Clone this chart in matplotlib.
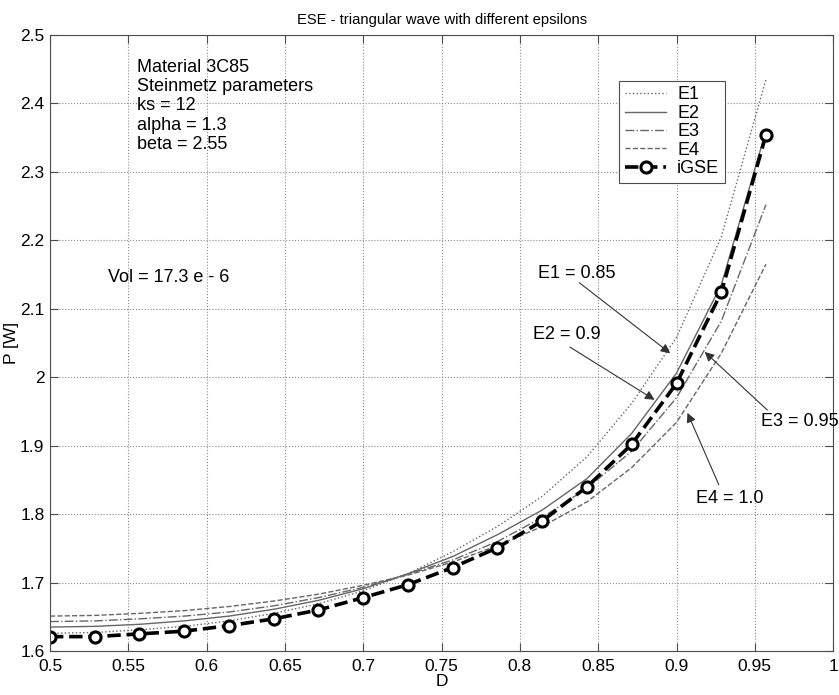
import numpy as np
import matplotlib
matplotlib.use('Agg')
import matplotlib.pyplot as plt

plt.rcParams['font.family'] = ['Liberation Sans', 'DejaVu Sans']

# duty cycle D and losses P [W]
D = [0.5, 0.5286, 0.5571, 0.5857, 0.6143, 0.6429, 0.6714, 0.7, 0.7286,
     0.7571, 0.7857, 0.8143, 0.8429, 0.8714, 0.9, 0.9286, 0.9571]
iGSE = [1.621, 1.621, 1.625, 1.629, 1.637, 1.647, 1.660, 1.678, 1.697,
        1.722, 1.751, 1.790, 1.840, 1.902, 1.991, 2.124, 2.354]
E1 = [1.626, 1.627, 1.631, 1.636, 1.644, 1.655, 1.669, 1.688, 1.713,
      1.745, 1.782, 1.826, 1.884, 1.962, 2.058, 2.205, 2.435]
E2 = [1.635, 1.636, 1.639, 1.644, 1.651, 1.661, 1.674, 1.691, 1.713,
      1.738, 1.770, 1.806, 1.852, 1.918, 2.006, 2.135, 2.360]
E3 = [1.643, 1.644, 1.647, 1.651, 1.657, 1.666, 1.678, 1.693, 1.712,
      1.733, 1.760, 1.795, 1.838, 1.892, 1.970, 2.082, 2.252]
E4 = [1.651, 1.652, 1.655, 1.659, 1.665, 1.673, 1.683, 1.696, 1.711,
      1.730, 1.754, 1.782, 1.818, 1.868, 1.934, 2.035, 2.165]

xticks = [0.5, 0.55, 0.6, 0.65, 0.7, 0.75, 0.8, 0.85, 0.9, 0.95, 1]
xticklabels = ['0.5', '0.55', '0.6', '0.65', '0.7', '0.75', '0.8', '0.85', '0.9', '0.95', '1']
yticks = [1.6, 1.7, 1.8, 1.9, 2.0, 2.1, 2.2, 2.3, 2.4, 2.5]
yticklabels = ['1.6', '1.7', '1.8', '1.9', '2', '2.1', '2.2', '2.3', '2.4', '2.5']

fig = plt.figure(figsize=(8.39, 6.95), dpi=100)
ax = fig.add_axes([0.0596, 0.0633, 0.9334, 0.8863])

gray = '0.4'
ax.plot(D, E1, ls=':', color=gray, lw=1.0, label='E1')
ax.plot(D, E2, ls='-', color=gray, lw=1.0, label='E2')
ax.plot(D, E3, ls='-.', color=gray, lw=1.0, label='E3')
ax.plot(D, E4, ls='--', color=gray, lw=1.0, label='E4')
ax.plot(D, iGSE, ls='--', color='black', lw=2.6, marker='o', markersize=8,
        markerfacecolor='white', markeredgecolor='black', markeredgewidth=2.2,
        label='iGSE')

ax.set_xlim(0.5, 1)
ax.set_ylim(1.6, 2.5)
ax.set_xticks(xticks)
ax.set_xticklabels(xticklabels)
ax.set_yticks(yticks)
ax.set_yticklabels(yticklabels)
ax.tick_params(direction='in', top=True, right=True, labelsize=12.5, length=6, color='0.3')
ax.tick_params(axis='x', pad=5.5)
ax.tick_params(axis='y', pad=4)
ax.grid(True, ls=':', color='0.55', lw=0.8)
for s in ax.spines.values():
    s.set_color('0.3')

ax.set_xlabel('D', fontsize=12.5, labelpad=0)
ax.set_ylabel('P [W]', fontsize=12.5, labelpad=1)
ax.set_title('ESE - triangular wave with different epsilons', fontsize=10.6, pad=8)

leg = ax.legend(loc='upper right', bbox_to_anchor=(0.873, 0.94), fancybox=False,
                framealpha=1, edgecolor='0.3', fontsize=13, handlelength=2.3,
                borderpad=0.3, labelspacing=0.08, handletextpad=0.6)
leg.get_frame().set_linewidth(0.8)

ax.text(0.5556, 2.465, 'Material 3C85\nSteinmetz parameters\nks = 12\nalpha = 1.3\nbeta = 2.55',
        fontsize=13, va='top', ha='left', linespacing=1.17)
ax.text(0.537, 2.145, 'Vol = 17.3 e - 6', fontsize=13, va='center', ha='left')

# labels with arrows
notes = [('E1 = 0.85', (0.836, 2.151), (0.838, 2.138), (0.896, 2.035)),
         ('E2 = 0.9', (0.830, 2.062), (0.832, 2.044), (0.886, 1.967)),
         ('E3 = 0.95', (0.979, 1.935), (0.958, 1.952), (0.918, 2.037)),
         ('E4 = 1.0', (0.934, 1.823), (0.927, 1.843), (0.907, 1.948))]
for txt, tpos, start, tip in notes:
    ax.text(tpos[0], tpos[1], txt, fontsize=13, ha='center', va='center')
    ax.annotate('', xy=tip, xytext=start,
                arrowprops=dict(arrowstyle='-|>', color='0.2', lw=0.8,
                                mutation_scale=14, shrinkA=0, shrinkB=0))

fig.savefig('out.png', dpi=100)
